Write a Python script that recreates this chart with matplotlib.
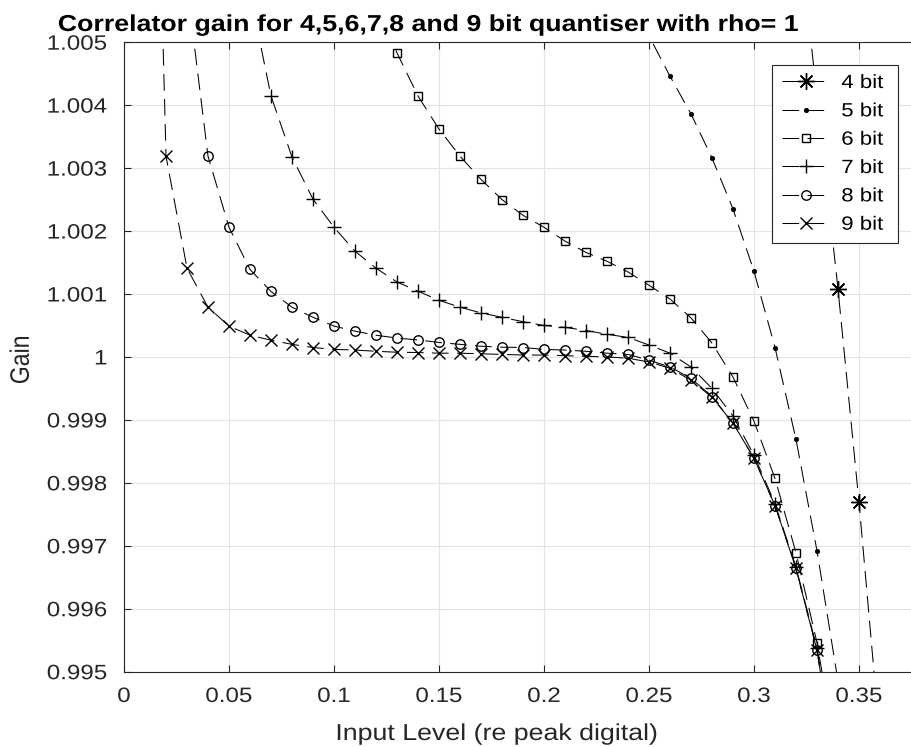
import matplotlib
matplotlib.use("Agg")
import matplotlib.pyplot as plt
from matplotlib.patheffects import AbstractPathEffect
from matplotlib.transforms import Affine2D

plt.rcParams['font.family'] = ['Liberation Sans', 'DejaVu Sans']
plt.rcParams['lines.scale_dashes'] = False

# ---- data ----
x4 = [0.32, 0.33, 0.34, 0.35, 0.36]
g4 = [1.0072, 1.00413, 1.00108, 0.99769, 0.99392]

x5 = [0.24, 0.25, 0.26, 0.27, 0.28, 0.29, 0.30, 0.31, 0.32, 0.33, 0.34]
g5 = [1.0058, 1.0051, 1.00446, 1.00386, 1.00316, 1.00235, 1.00136, 1.00015,
      0.99869, 0.99692, 0.99485]

x6 = [0.12, 0.13, 0.14, 0.15, 0.16, 0.17, 0.18, 0.19, 0.20, 0.21, 0.22, 0.23,
      0.24, 0.25, 0.26, 0.27, 0.28, 0.29, 0.30, 0.31, 0.32, 0.33, 0.34]
g6 = [1.0056, 1.00483, 1.004145, 1.00362, 1.00319, 1.00282, 1.0025, 1.00225,
      1.00206, 1.00184, 1.00166, 1.00152, 1.00135, 1.00114, 1.00092, 1.00062,
      1.00022, 0.99968, 0.99898, 0.99807, 0.99689, 0.99546, 0.9935]

x7 = [0.06, 0.07, 0.08, 0.09, 0.10, 0.11, 0.12, 0.13, 0.14, 0.15, 0.16, 0.17,
      0.18, 0.19, 0.20, 0.21, 0.22, 0.23, 0.24, 0.25, 0.26, 0.27, 0.28, 0.29,
      0.30, 0.31, 0.32, 0.33, 0.34]
g7 = [1.00578, 1.004145, 1.003175, 1.002506, 1.00206, 1.00168, 1.00141,
      1.00119, 1.001045, 1.0009, 1.00079, 1.0007, 1.00063, 1.00056, 1.0005,
      1.00047, 1.00042, 1.00036, 1.00031, 1.00019, 1.00006, 0.99984, 0.9995,
      0.99906, 0.99844, 0.99767, 0.99666, 0.99537, 0.9933]

x8 = [0.03, 0.04, 0.05, 0.06, 0.07, 0.08, 0.09, 0.10, 0.11, 0.12, 0.13, 0.14,
      0.15, 0.16, 0.17, 0.18, 0.19, 0.20, 0.21, 0.22, 0.23, 0.24, 0.25, 0.26,
      0.27, 0.28, 0.29, 0.30, 0.31, 0.32, 0.33, 0.34]
g8 = [1.0059, 1.00319, 1.00206, 1.00139, 1.00104, 1.00079, 1.00063, 1.00049,
      1.00041, 1.000345, 1.0003, 1.00027, 1.00023, 1.0002, 1.00017, 1.000155,
      1.00015, 1.00012, 1.00011, 1.00009, 1.00006, 1.00004, 0.99995, 0.99984,
      0.99966, 0.99937, 0.99895, 0.99839, 0.99764, 0.99664, 0.99534, 0.9932]

x9 = [0.01, 0.02, 0.03, 0.04, 0.05, 0.06, 0.07, 0.08, 0.09, 0.10, 0.11, 0.12,
      0.13, 0.14, 0.15, 0.16, 0.17, 0.18, 0.19, 0.20, 0.21, 0.22, 0.23, 0.24,
      0.25, 0.26, 0.27, 0.28, 0.29, 0.30, 0.31, 0.32, 0.33, 0.34]
g9 = [1.016, 1.00319, 1.00141, 1.00079, 1.00049, 1.000345, 1.000266, 1.0002,
      1.00015, 1.00012, 1.00011, 1.00009, 1.000075, 1.00007, 1.00006, 1.00006,
      1.00005, 1.00004, 1.00003, 1.00003, 1.00002, 1.00001, 1.0, 0.99998,
      0.99992, 0.99982, 0.99963, 0.99936, 0.99895, 0.99839, 0.99764, 0.99664,
      0.99534, 0.9932]

labels = ['4 bit', '5 bit', '6 bit', '7 bit', '8 bit', '9 bit']
xticks = [0, 0.05, 0.1, 0.15, 0.2, 0.25, 0.3, 0.35]
xticklabels = ['0', '0.05', '0.1', '0.15', '0.2', '0.25', '0.3', '0.35']
yticks = [0.995, 0.996, 0.997, 0.998, 0.999, 1.0, 1.001, 1.002, 1.003, 1.004, 1.005]
yticklabels = ['0.995', '0.996', '0.997', '0.998', '0.999', '1',
               '1.001', '1.002', '1.003', '1.004', '1.005']
title = 'Correlator gain for 4,5,6,7,8 and 9 bit quantiser with rho= 1'
xlabel = 'Input Level (re peak digital)'
ylabel = 'Gain'


class StretchX(AbstractPathEffect):
    """Draw text glyphs horizontally widened (the reference text is wide)."""

    def __init__(self, k=1.16, anchor='left'):
        super().__init__()
        self.k = k
        self.anchor = anchor

    def draw_path(self, renderer, gc, tpath, affine, rgbFace=None):
        ext = tpath.get_extents(affine)
        if self.anchor == 'left':
            x0 = ext.x0
        elif self.anchor == 'right':
            x0 = ext.x1
        else:
            x0 = 0.5 * (ext.x0 + ext.x1)
        t = affine + Affine2D().translate(-x0, 0).scale(self.k, 1).translate(x0, 0)
        renderer.draw_path(gc, tpath, t, rgbFace)


K = 1.16

# ---- figure ----
W, H = 912, 747
fig = plt.figure(figsize=(W / 100, H / 100), dpi=100)
left, right, top, bottom = 124, 922, 42.2, 671.7
ax = fig.add_axes([left / W, 1 - bottom / H, (right - left) / W, (bottom - top) / H])

dash = (0, (12, 6))
lw = 0.75
mew = 1.0
styles = [
    dict(marker=(8, 2, 0), ms=12, mew=mew),
    dict(marker='o', ms=3.2, mew=0.5, mfc='black'),
    dict(marker='s', ms=5.6, mew=mew, mfc='none'),
    dict(marker='+', ms=10.5, mew=mew),
    dict(marker='o', ms=6.8, mew=mew, mfc='none'),
    dict(marker='x', ms=8.5, mew=mew),
]
xs = [x4, x5, x6, x7, x8, x9]
gs = [g4, g5, g6, g7, g8, g9]
for x, g, lab, st in zip(xs, gs, labels, styles):
    ax.plot(x, g, color='black', linestyle=dash, lw=lw, mec='black', label=lab, **st)

ax.set_xlim(0, 0.38)
ax.set_ylim(0.995, 1.005)
ax.set_xticks(xticks)
ax.set_xticklabels(xticklabels)
ax.set_yticks(yticks)
ax.set_yticklabels(yticklabels)
ax.grid(True, color='#e3e3e3', lw=0.8)
ax.set_axisbelow(True)
for s in ['left', 'bottom', 'top']:
    ax.spines[s].set_color('#262626')
    ax.spines[s].set_linewidth(0.8)
ax.spines['right'].set_visible(False)
ax.tick_params(direction='in', length=5, width=0.8, colors='#262626',
               labelsize=15, top=True, right=False)
ax.tick_params(axis='y', pad=12)
ax.tick_params(axis='x', pad=11)
for t in ax.get_xticklabels():
    t.set_path_effects([StretchX(K, 'center')])
for t in ax.get_yticklabels():
    t.set_path_effects([StretchX(K, 'right')])

leg = ax.legend(loc='upper left',
                bbox_to_anchor=(772 / W, 1 - 244 / H, 126 / W, 179 / H),
                bbox_transform=fig.transFigure, mode='expand',
                borderaxespad=0, fontsize=13.8,
                fancybox=False, framealpha=1, edgecolor='#262626',
                handlelength=2.5, handletextpad=0.62, labelspacing=0.57,
                borderpad=0.5, numpoints=1)
leg.get_frame().set_linewidth(0.8)
for t in leg.get_texts():
    t.set_path_effects([StretchX(K, 'left')])

fig.text(427 / W, 1 - 31 / H, title, ha='center', va='baseline',
         fontsize=16.6, fontweight='bold', color='black',
         path_effects=[StretchX(K, 'center')])
fig.text(496 / W, 1 - 740 / H, xlabel, ha='center', va='baseline',
         fontsize=16.6, color='#262626',
         path_effects=[StretchX(K, 'center')])
fig.text(21 / W, 1 - 360 / H, ylabel, ha='center', va='center', rotation=90,
         fontsize=16.6, color='#262626',
         path_effects=[StretchX(K, 'center')])

fig.savefig('out.png', dpi=100)
